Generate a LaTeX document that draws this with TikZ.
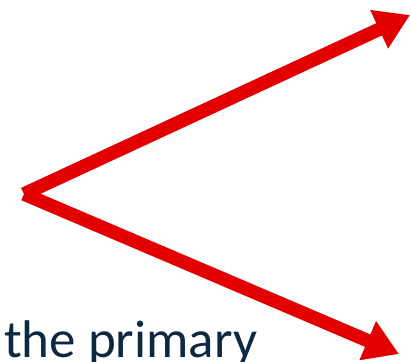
\documentclass[tikz,border=0pt]{standalone}
\usepackage{fontspec}
\setmainfont{Carlito}
\usetikzlibrary{arrows.meta, positioning}
\definecolor{cred}{HTML}{E20000}
\definecolor{cnavy}{HTML}{0E2841}

\begin{document}
\begin{tikzpicture}[
  x=1pt, y=-1pt,
  bigarrow/.style={
    -{Triangle[length=34pt, width=40pt]}, draw=cred, fill=cred,
    line width=13.5pt
  },
  arrowshadow/.style={
    -{Triangle[length=34pt, width=40pt]}, draw=black, fill=black,
    line width=13.5pt, opacity=0.12
  },
  font=\fontsize{53}{58}\selectfont
]
\useasboundingbox (0,0) rectangle (411,361);

% ============================================================
% Fork point and the two arrow ends
% ============================================================
\coordinate (apex) at (24,194);
\coordinate (upend) at (410,15);
\coordinate (lowend) at (399,354);

% soft shadow under both arrows
\begin{scope}[shift={(2,4)}]
  \draw[arrowshadow] (apex) -- (upend);
  \draw[arrowshadow] (apex) -- (lowend);
\end{scope}

% the two red arrows
\draw[bigarrow] (apex) -- (upend);
\draw[bigarrow] (apex) -- (lowend);

% ============================================================
% Caption text, cut by the lower edge
% ============================================================
\node[cnavy, anchor=base west, inner sep=0pt] (caption) at (4,357) {the primary};

\end{tikzpicture}
\end{document}
